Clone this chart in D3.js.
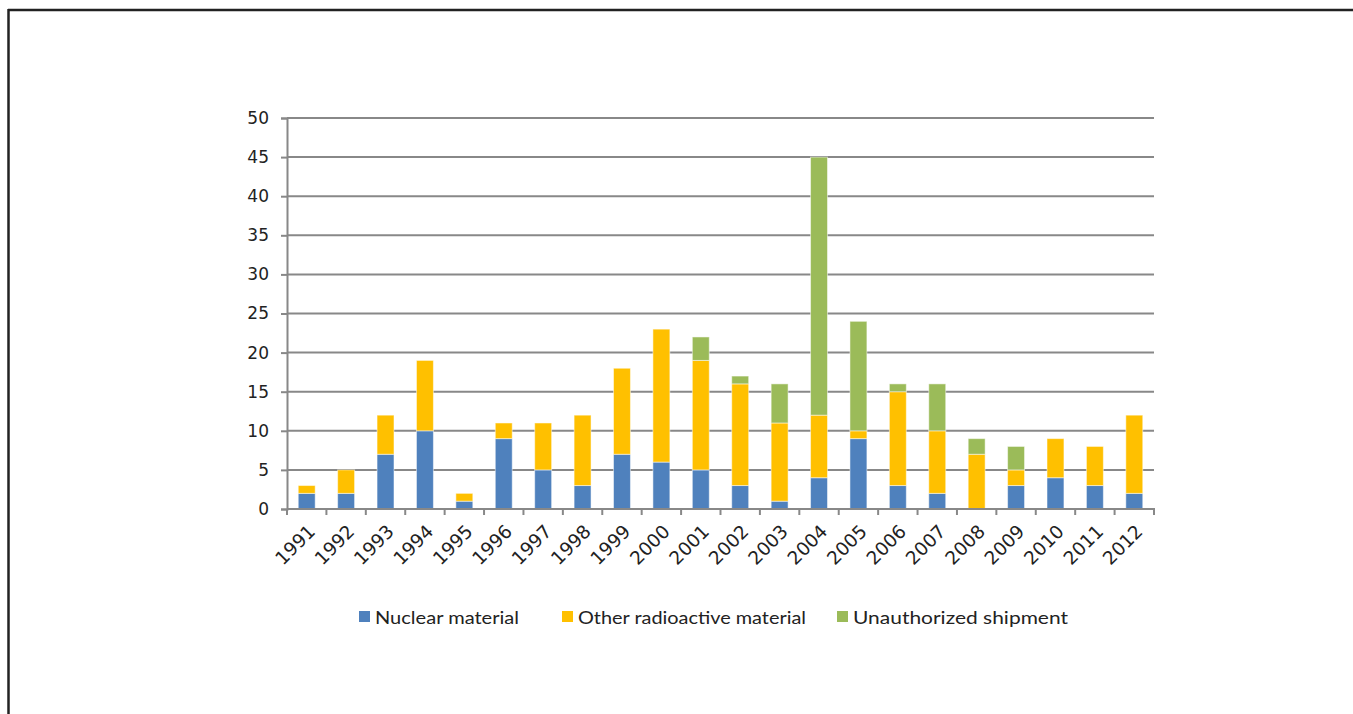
<!DOCTYPE html>
<html>
<head>
<meta charset="utf-8">
<script src="https://cdn.jsdelivr.net/npm/d3@7"></script>
<style>
  html, body { margin: 0; padding: 0; background: #fff; }
  svg { display: block; }
</style>
</head>
<body>
<svg id="chart" width="1353" height="714"></svg>
<script>
const years = ["1991","1992","1993","1994","1995","1996","1997","1998","1999","2000","2001","2002","2003","2004","2005","2006","2007","2008","2009","2010","2011","2012"];
const nuclear      = [2, 2, 7, 10, 1, 9, 5, 3, 7, 6, 5, 3, 1, 4, 9, 3, 2, 0, 3, 4, 3, 2];
const otherRadio   = [1, 3, 5, 9, 1, 2, 6, 9, 11, 17, 14, 13, 10, 8, 1, 12, 8, 7, 2, 5, 5, 10];
const unauthorized = [0, 0, 0, 0, 0, 0, 0, 0, 0, 0, 3, 1, 5, 33, 14, 1, 6, 2, 3, 0, 0, 0];
const seriesNames = ["Nuclear material", "Other radioactive material", "Unauthorized shipment"];
const seriesColors = ["#4F81BD", "#FFC000", "#9BBB59"];
const yTicks = [0, 5, 10, 15, 20, 25, 30, 35, 40, 45, 50];

const svg = d3.select("#chart");

// frame
svg.append("line").attr("x1", 8).attr("x2", 1353).attr("y1", 10).attr("y2", 10)
  .attr("stroke", "#222").attr("stroke-width", 2.5);
svg.append("line").attr("x1", 8.5).attr("x2", 8.5).attr("y1", 9).attr("y2", 714)
  .attr("stroke", "#222").attr("stroke-width", 2.5);

const plotLeft = 287, plotRight = 1154, plotTop = 118, plotBottom = 509;

const x = d3.scaleBand().domain(years).range([plotLeft, plotRight]).paddingInner(0.57).paddingOuter(0.285);
const xCat = d3.scaleBand().domain(years).range([plotLeft, plotRight]).padding(0);
const y = d3.scaleLinear().domain([0, 50]).range([plotBottom, plotTop]);

const gridColor = "#888888";
const tickFont = "'DejaVu Sans', Verdana, sans-serif";

// gridlines
svg.append("g").selectAll("line").data(yTicks.slice(1)).join("line")
  .attr("x1", plotLeft).attr("x2", plotRight)
  .attr("y1", d => y(d)).attr("y2", d => y(d))
  .attr("stroke", gridColor).attr("stroke-width", 2);

// y axis
const yAxis = svg.append("g").attr("transform", `translate(${plotLeft},0)`)
  .call(d3.axisLeft(y).tickValues(yTicks).tickSize(6).tickPadding(12));
yAxis.attr("font-family", null).attr("font-size", null);
yAxis.select(".domain").attr("stroke", gridColor).attr("stroke-width", 2);
yAxis.selectAll(".tick line").attr("stroke", gridColor).attr("stroke-width", 2);
yAxis.selectAll(".tick text").style("font-family", tickFont).style("font-size", "17px").attr("fill", "#222");

// stacked bars
const rows = years.map((yr, i) => ({ year: yr, n: nuclear[i], o: otherRadio[i], u: unauthorized[i] }));
const stack = d3.stack().keys(["n", "o", "u"])(rows);
svg.append("g").selectAll("g").data(stack).join("g")
  .attr("fill", (d, i) => seriesColors[i])
  .selectAll("rect").data(d => d.filter(s => s[1] - s[0] > 0)).join("rect")
  .attr("x", d => x(d.data.year))
  .attr("width", x.bandwidth())
  .attr("y", d => y(d[1]))
  .attr("height", d => y(d[0]) - y(d[1]))
  .attr("stroke", "rgba(255,255,255,0.5)").attr("stroke-width", 1);

// x axis
const xAxisG = svg.append("g").attr("transform", `translate(0,${plotBottom})`);
xAxisG.append("line").attr("x1", plotLeft).attr("x2", plotRight + 1).attr("y1", 0).attr("y2", 0)
  .attr("stroke", gridColor).attr("stroke-width", 2);
const bounds = years.map(d => xCat(d)).concat([plotRight]);
xAxisG.selectAll("line.tk").data(bounds).join("line").attr("class", "tk")
  .attr("x1", d => d).attr("x2", d => d).attr("y1", 0).attr("y2", 6)
  .attr("stroke", gridColor).attr("stroke-width", 2);
xAxisG.selectAll("text").data(years).join("text")
  .attr("transform", d => `translate(${xCat(d) + xCat.bandwidth() / 2 + 5},${19}) rotate(-45)`)
  .attr("text-anchor", "end").attr("dy", "0.35em")
  .style("font-family", tickFont).style("font-size", "18.5px").attr("fill", "#222")
  .text(d => d);

// legend
const legendX = [359, 562, 837];
const legendW = [144, 228, 215];
const lg = svg.append("g");
seriesNames.forEach((name, i) => {
  lg.append("rect").attr("x", legendX[i]).attr("y", 611).attr("width", 11).attr("height", 11)
    .attr("fill", seriesColors[i]);
  lg.append("text").attr("x", legendX[i] + 16).attr("y", 624)
    .style("font-family", "Lato, 'Open Sans', sans-serif").style("font-size", "18px").attr("fill", "#222")
    .attr("textLength", legendW[i]).attr("lengthAdjust", "spacingAndGlyphs")
    .text(name);
});
</script>
</body>
</html>
